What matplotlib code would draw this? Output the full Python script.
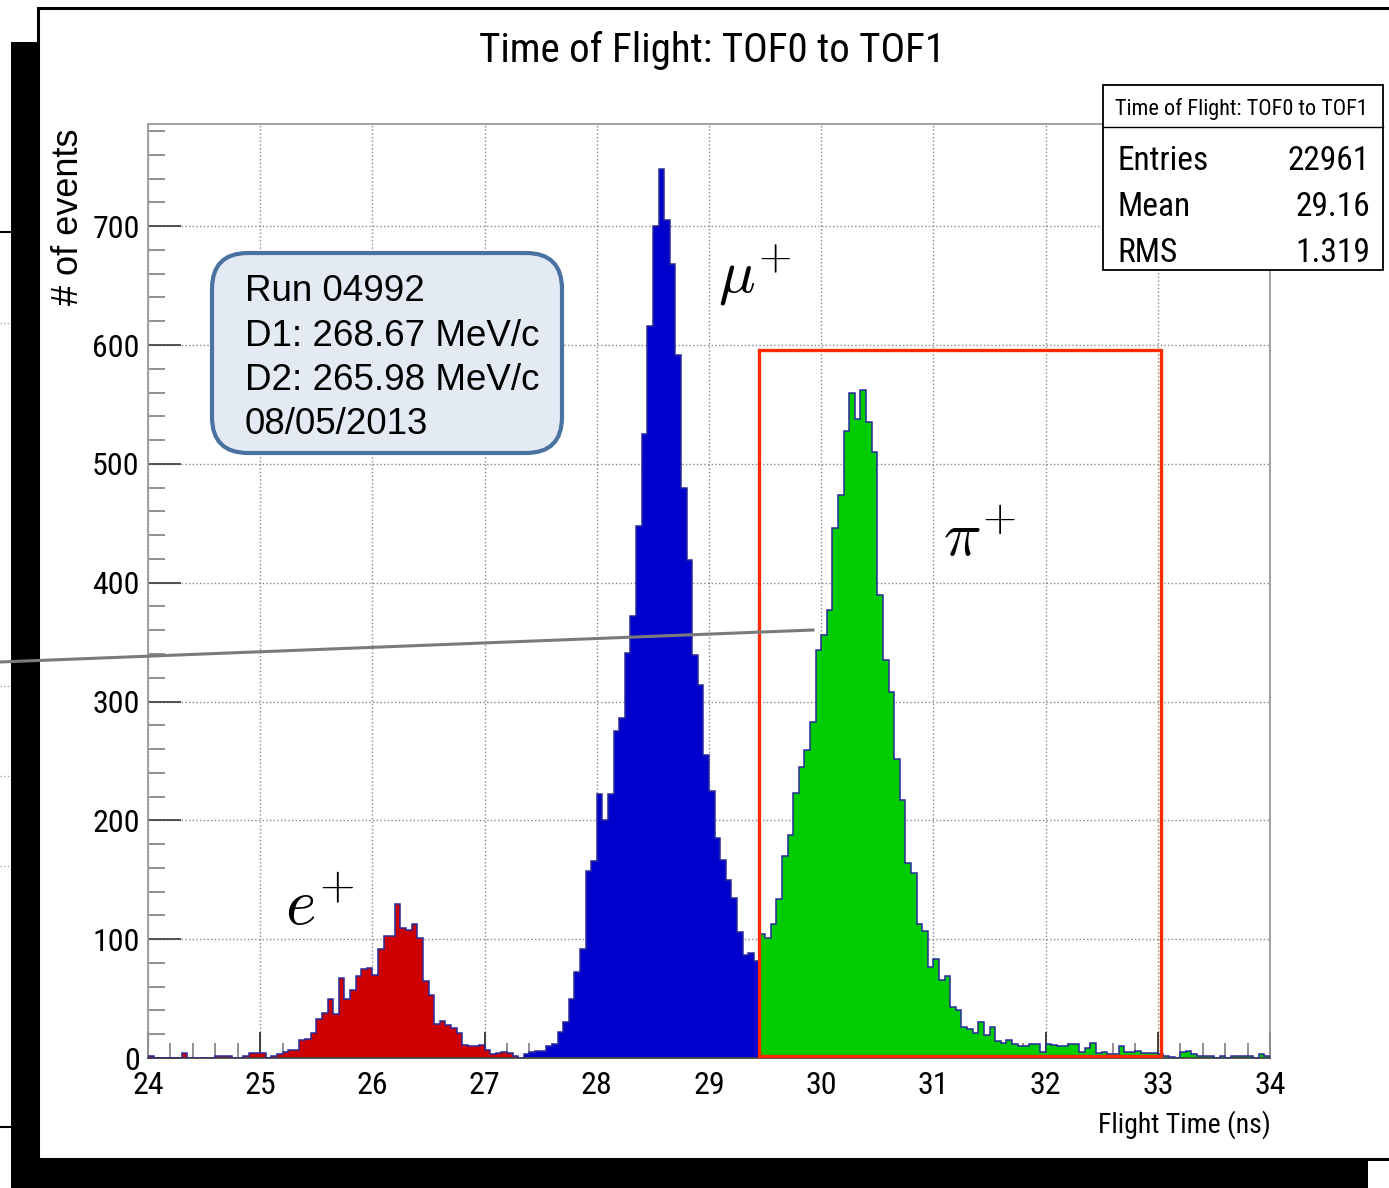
import numpy as np
import matplotlib
matplotlib.use('Agg')
import matplotlib.pyplot as plt
from matplotlib import font_manager as fm
from matplotlib.patches import Rectangle, FancyBboxPatch
from matplotlib.lines import Line2D
from matplotlib.transforms import IdentityTransform
from matplotlib.ticker import MultipleLocator

W, H = 1389, 1188

# histogram: 200 bins of 0.05 ns from 24 to 34 ns
edges = np.linspace(24, 34, 201)

# e+ part (bins 0-66)
e_counts = [2, 0, 0, 0, 0, 0, 4, 0, 0, 0,
            0, 0, 2, 2, 2, 0, 0, 2, 4, 4,
            4, 0, 2, 3, 5, 7, 7, 15, 16, 21,
            33, 38, 50, 37, 67, 50, 57, 69, 75, 76,
            70, 92, 103, 103, 130, 109, 108, 113, 101, 65,
            53, 29, 31, 28, 25, 21, 11, 10, 10, 11,
            7, 3, 4, 5, 4, 2, 0]
# mu+ part (bins 67-108)
mu_counts = [3, 5, 6, 6, 10, 12, 22, 30, 50, 72,
             92, 157, 166, 222, 200, 222, 275, 286, 341, 372,
             448, 525, 616, 700, 748, 705, 668, 592, 480, 419,
             339, 314, 255, 225, 185, 167, 150, 135, 106, 87,
             88, 82]
# pi+ part (bins 109-199)
pi_counts = [104, 101, 113, 134, 170, 188, 223, 245, 259, 283,
             343, 356, 377, 446, 474, 528, 560, 538, 562, 535,
             510, 390, 335, 308, 252, 217, 164, 156, 113, 107,
             77, 83, 66, 69, 43, 40, 26, 24, 21, 30,
             19, 26, 14, 13, 15, 12, 10, 10, 12, 12,
             5, 12, 11, 10, 10, 12, 12, 5, 8, 13,
             4, 5, 3, 3, 10, 5, 5, 6, 4, 4,
             4, 3, 2, 1, 0, 5, 6, 3, 2, 2,
             2, 0, 2, 0, 2, 2, 2, 2, 0, 3,
             2]

x_ticks = list(range(24, 35))
y_ticks = list(range(0, 800, 100))

stats_title = "Time of Flight: TOF0 to TOF1"
stats_labels = ["Entries", "Mean", "RMS"]
stats_values = ["22961", "29.16", "1.319"]
info_lines = ["Run 04992", "D1: 268.67 MeV/c", "D2: 265.98 MeV/c", "08/05/2013"]

# pion selection window
pi_window = (29.45, 33.03, 2, 596)


def has_font(name):
    try:
        fm.findfont(fm.FontProperties(family=name), fallback_to_default=False)
        return True
    except ValueError:
        return False


# ROOT uses a narrow Helvetica; use a condensed face if there is one,
# otherwise shrink a regular one so the widths still fit
NARROW = ['Liberation Sans', 'DejaVu Sans']
nscale = 0.80
for cand in ['Liberation Sans Narrow', 'Roboto Condensed', 'DejaVu Sans Condensed',
             'Open Sans Condensed']:
    if has_font(cand):
        NARROW = [cand, 'Liberation Sans', 'DejaVu Sans']
        nscale = 1.0
        break
SANS = ['Liberation Sans', 'DejaVu Sans']


def fx(x):
    return x / W


def fy(y):
    return 1 - y / H


plt.rcParams['mathtext.fontset'] = 'cm'

fig = plt.figure(figsize=(W / 100, H / 100), dpi=100)
fig.patch.set_facecolor('white')

# slide background: black shadow and white panel with black border
fig.add_artist(Rectangle((fx(11), fy(1188)), fx(1368) - fx(11), fy(42) - fy(1188),
                         transform=fig.transFigure, facecolor='black', edgecolor='none', zorder=-20))
fig.add_artist(Rectangle((fx(38), fy(1159)), fx(1400) - fx(38), fy(8) - fy(1159),
                         transform=fig.transFigure, facecolor='white', edgecolor='black',
                         lw=2.2, zorder=-19))
# bits of the slide behind
for yy in [323, 686, 776, 866]:
    fig.add_artist(Line2D([fx(0), fx(10)], [fy(yy), fy(yy)], transform=fig.transFigure,
                          color='#aaaaaa', lw=1, ls=':', zorder=-21))
fig.add_artist(Line2D([fx(0), fx(11)], [fy(232), fy(232)], transform=fig.transFigure,
                      color='black', lw=1.5, zorder=-21))
fig.add_artist(Line2D([fx(0), fx(11)], [fy(1127), fy(1127)], transform=fig.transFigure,
                      color='black', lw=1.5, zorder=-21))

ax = fig.add_axes([fx(148), fy(1058), fx(1270) - fx(148), fy(124) - fy(1058)])
ax.set_facecolor('white')
ax.set_axisbelow(True)

counts = np.array(e_counts + mu_counts + pi_counts)
n_e, n_mu = len(e_counts), len(mu_counts)
ax.stairs(e_counts, edges[:n_e + 1], fill=True, color='#cc0000', zorder=2)
ax.stairs(mu_counts, edges[n_e:n_e + n_mu + 1], fill=True, color='#0000cc', zorder=2)
ax.stairs(pi_counts, edges[n_e + n_mu:], fill=True, color='#00cc00', zorder=2)
ax.stairs(counts, edges, color='#2a2a9a', lw=1.1, zorder=3)

x0, x1, y0, y1 = pi_window
ax.add_patch(Rectangle((x0, y0), x1 - x0, y1 - y0, fill=False, edgecolor='#ff2a00',
                       lw=2.4, zorder=5, clip_on=False))

ax.set_xlim(24, 34)
ax.set_ylim(0, 786)
ax.set_xticks(x_ticks)
ax.set_yticks(y_ticks)
ax.xaxis.set_minor_locator(MultipleLocator(0.2))
ax.yaxis.set_minor_locator(MultipleLocator(20))
ax.tick_params(axis='x', which='major', direction='in', length=19, width=1.3,
               color='#333333', pad=9, labelsize=23 * nscale, labelfontfamily=NARROW)
ax.tick_params(axis='x', which='minor', direction='in', length=11, width=1.3,
               color='#888888')
ax.tick_params(axis='y', which='major', direction='in', length=24, width=1.3,
               color='#444444', pad=6, labelsize=23 * nscale, labelfontfamily=NARROW)
ax.tick_params(axis='y', which='minor', direction='in', length=12, width=1.3,
               color='#888888')
ax.tick_params(top=False, right=False)
ax.grid(which='major', ls=':', color='#888888', lw=1)
for side in ['top', 'right', 'left']:
    ax.spines[side].set_color('#999999')
    ax.spines[side].set_linewidth(1.3)
ax.spines['bottom'].set_color('#444444')
ax.spines['bottom'].set_linewidth(1.3)

# titles and axis labels
fig.text(fx(712), fy(62), "Time of Flight: TOF0 to TOF1", ha='center', va='baseline',
         fontsize=29.5 * nscale, family=NARROW)
fig.text(fx(1271), fy(1133), "Flight Time (ns)", ha='right', va='baseline',
         fontsize=20 * nscale, family=NARROW)
fig.text(fx(68), fy(217), "# of events", ha='center', va='center', rotation=90,
         fontsize=26, family=SANS)

# particle labels
fig.text(fx(718), fy(292), r'$\mu^{+}$', fontsize=44, va='baseline', zorder=6)
fig.text(fx(943), fy(556), r'$\pi^{+}$', fontsize=45, va='baseline', zorder=6)
fig.text(fx(285), fy(924), r'$e^{+}$', fontsize=47, va='baseline', zorder=6)

# run info box
box = FancyBboxPatch((212, H - 453), 350, 200, boxstyle='round,pad=0,rounding_size=36',
                     transform=IdentityTransform(), facecolor='#e3eaf4', edgecolor='#4a72a0',
                     lw=3, zorder=6)
fig.add_artist(box)
for i, line in enumerate(info_lines):
    fig.text(fx(245), fy(301 + 44.5 * i), line, fontsize=26.5, family=SANS,
             va='baseline', ha='left', zorder=7)

# stats box
fig.add_artist(Rectangle((fx(1103), fy(270)), fx(1383) - fx(1103), fy(85) - fy(270),
                         transform=fig.transFigure, facecolor='white', edgecolor='black',
                         lw=1.3, zorder=6))
fig.add_artist(Line2D([fx(1103), fx(1383)], [fy(127), fy(127)], transform=fig.transFigure,
                      color='black', lw=1.0, zorder=7))
fig.text(fx(1241), fy(115), stats_title, ha='center', va='baseline',
         fontsize=16 * nscale * (0.82 if nscale < 1 else 1.0), family=NARROW, zorder=7)
for i, (lab, val) in enumerate(zip(stats_labels, stats_values)):
    yb = 170 + 46 * i
    fig.text(fx(1117), fy(yb), lab, ha='left', va='baseline', fontsize=24 * nscale,
             family=NARROW, zorder=7)
    fig.text(fx(1370), fy(yb), val, ha='right', va='baseline', fontsize=24 * nscale,
             family=NARROW, zorder=7)

# grey line crossing the slide
fig.add_artist(Line2D([fx(0), fx(813)], [fy(662), fy(630)], transform=fig.transFigure,
                      color='#7a7a7a', lw=2.2, zorder=10))

fig.savefig('out.png', dpi=100)
